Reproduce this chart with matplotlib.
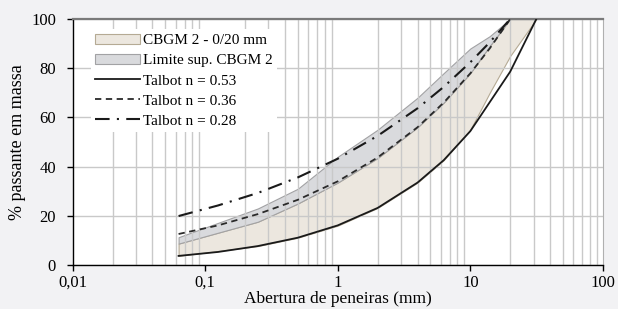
import matplotlib.pyplot as plt
import matplotlib.ticker as mticker
import numpy as np

plt.rcParams['font.family'] = ['Liberation Serif', 'DejaVu Serif']

# sieve openings (mm) and envelopes
sieves = [0.063, 0.25, 0.5, 1, 2, 4, 6.3, 10, 14, 20, 31.5]
cbgm_low = [3.7, 7.7, 11.1, 16.0, 23.2, 33.5, 42.6, 55, 70, 85, 100]
cbgm_up = [8.7, 17.6, 25, 33.5, 43.5, 56, 66, 78, 89, 100, 100]
lim_sup = [11.3, 23, 31, 44, 55, 68, 78, 88, 93, 100, 100]

# Talbot curves
d_053 = [0.063, 0.125, 0.25, 0.5, 1, 2, 4, 6.3, 10, 20, 31.5]
t_053 = [3.7, 5.3, 7.7, 11.1, 16.1, 23.2, 33.5, 42.6, 54.4, 78.6, 100]
d_d20 = [0.063, 0.125, 0.25, 0.5, 1, 2, 4, 6.3, 10, 14, 20]
t_036 = [12.6, 16.1, 20.7, 26.5, 34.0, 43.7, 56.0, 66.0, 77.9, 88.0, 100]
t_028 = [19.9, 24.2, 29.3, 35.6, 43.2, 52.5, 63.7, 72.4, 82.4, 90.5, 100]

xticks = [0.01, 0.1, 1, 10, 100]
xticklabels = ['0,01', '0,1', '1', '10', '100']

fig = plt.figure(figsize=(6.18, 3.09), dpi=100, facecolor='#f2f2f4')
ax = fig.add_axes([0.1175, 0.1424, 0.858, 0.7961])
ax.set_facecolor('white')

ax.fill_between(sieves, cbgm_low, cbgm_up, facecolor='#ece7df', edgecolor='#b5aa94',
                linewidth=0.8, zorder=0.3, label='CBGM 2 - 0/20 mm')
ax.fill_between(sieves, cbgm_up, lim_sup, facecolor='#d9dadd', edgecolor='#a2a2a4',
                linewidth=0.8, zorder=0.3, label='Limite sup. CBGM 2')

ax.plot(d_053, t_053, color='#1a1a1a', lw=1.3, ls='-', label='Talbot n = 0.53', zorder=3)
ax.plot(d_d20, t_036, color='#2a2a2a', lw=1.3, ls=(0, (3.5, 2.5)), label='Talbot n = 0.36', zorder=3)
ax.plot(d_d20, t_028, color='#1a1a1a', lw=1.5, ls=(0, (7, 3.5, 1, 3.5)), label='Talbot n = 0.28', zorder=3)

ax.set_xscale('log')
ax.set_xlim(0.01, 100)
ax.set_ylim(0, 100)
ax.set_xticks(xticks)
ax.set_xticklabels(xticklabels)
ax.xaxis.set_minor_locator(mticker.LogLocator(base=10, subs=np.arange(2, 10)))
ax.xaxis.set_minor_formatter(mticker.NullFormatter())
ax.set_yticks([0, 20, 40, 60, 80, 100])

ax.set_axisbelow(True)
ax.grid(True, which='minor', axis='x', color='#c9c9c9', lw=1.0)
ax.grid(True, which='major', axis='y', color='#c9c9c9', lw=1.0)

ax.tick_params(axis='x', which='major', direction='out', length=4, width=1, labelsize=12, pad=3)
ax.tick_params(axis='x', which='minor', length=0)
ax.tick_params(axis='y', direction='out', length=4, width=1, labelsize=12, pad=8)

for s in ['left', 'bottom']:
    ax.spines[s].set_color('black')
    ax.spines[s].set_linewidth(1.0)
ax.spines['top'].set_color('#7a7a7a')
ax.spines['top'].set_linewidth(1.6)
ax.spines['right'].set_color('#b0b0b0')
ax.spines['right'].set_linewidth(0.8)

ax.set_xlabel('Abertura de peneiras (mm)', fontsize=12.5, labelpad=0.5)
ax.set_ylabel('% passante em massa', fontsize=13, labelpad=4)

leg = ax.legend(loc='upper left', bbox_to_anchor=(0.02, 0.99), fontsize=11,
                frameon=True, facecolor='white', edgecolor='none', framealpha=1,
                fancybox=False, handlelength=2.9, handletextpad=0.2,
                labelspacing=0.42, borderpad=0.3)

fig.savefig('out.png', dpi=100, facecolor=fig.get_facecolor())
